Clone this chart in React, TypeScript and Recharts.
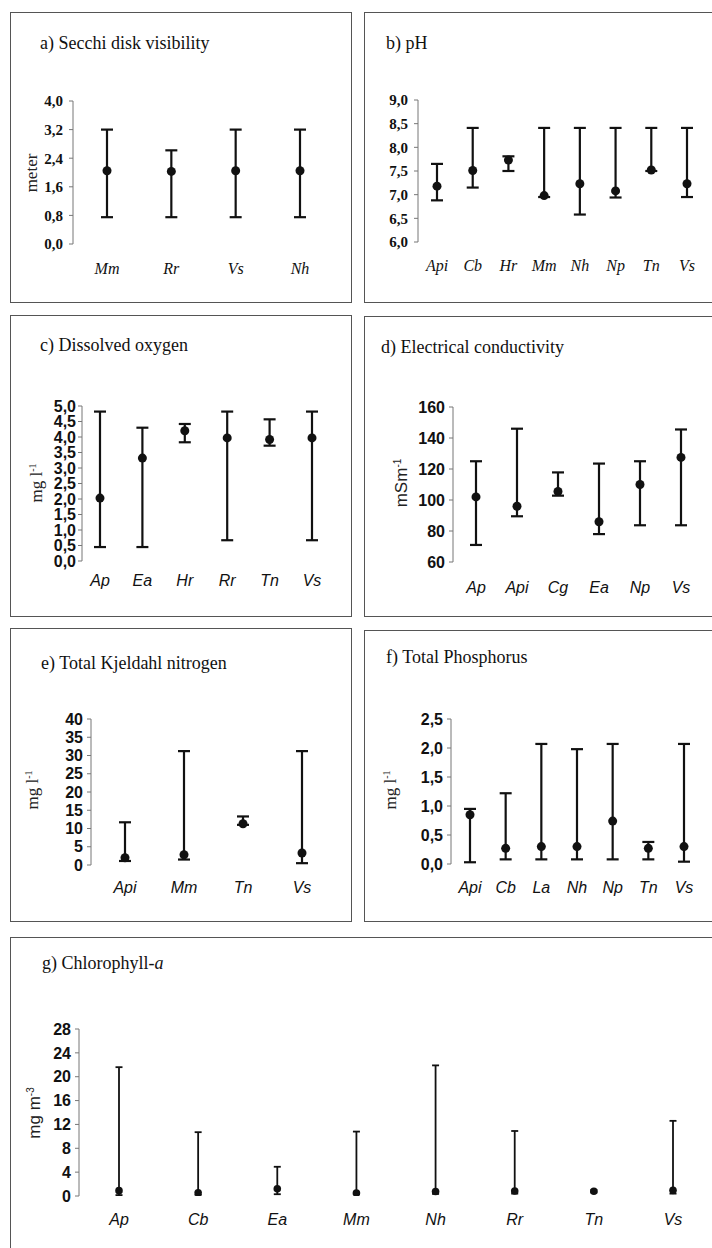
import React from "react";
import { ComposedChart, Line, XAxis, YAxis, ErrorBar } from "recharts";

// a) Secchi disk visibility (meter)
const secchiSites = ["Mm", "Rr", "Vs", "Nh"];
const secchiMean = [2.05, 2.03, 2.05, 2.05];
const secchiMin = [0.75, 0.75, 0.75, 0.75];
const secchiMax = [3.2, 2.62, 3.2, 3.2];
const secchiTicks = [0, 0.8, 1.6, 2.4, 3.2, 4.0];

// b) pH
const phSites = ["Api", "Cb", "Hr", "Mm", "Nh", "Np", "Tn", "Vs"];
const phMean = [7.18, 7.51, 7.73, 6.98, 7.23, 7.08, 7.52, 7.23];
const phMin = [6.88, 7.15, 7.5, 6.95, 6.58, 6.94, 7.5, 6.95];
const phMax = [7.65, 8.41, 7.81, 8.41, 8.41, 8.41, 8.41, 8.41];
const phTicks = [6, 6.5, 7, 7.5, 8, 8.5, 9];

// c) Dissolved oxygen (mg/l)
const doSites = ["Ap", "Ea", "Hr", "Rr", "Tn", "Vs"];
const doMean = [2.03, 3.32, 4.2, 3.97, 3.92, 3.97];
const doMin = [0.45, 0.45, 3.83, 0.67, 3.72, 0.67];
const doMax = [4.82, 4.3, 4.42, 4.82, 4.57, 4.82];
const doTicks = [0, 0.5, 1, 1.5, 2, 2.5, 3, 3.5, 4, 4.5, 5];

// d) Electrical conductivity (mS/m)
const ecSites = ["Ap", "Api", "Cg", "Ea", "Np", "Vs"];
const ecMean = [102, 96, 105.5, 86, 110, 127.5];
const ecMin = [71, 89.5, 102.8, 78, 83.7, 83.7];
const ecMax = [125, 146, 117.8, 123.5, 125, 145.5];
const ecTicks = [60, 80, 100, 120, 140, 160];

// e) Total Kjeldahl nitrogen (mg/l)
const tknSites = ["Api", "Mm", "Tn", "Vs"];
const tknMean = [2, 2.8, 11.3, 3.3];
const tknMin = [1.1, 1.5, 11, 0.5];
const tknMax = [11.7, 31.2, 13.3, 31.2];
const tknTicks = [0, 5, 10, 15, 20, 25, 30, 35, 40];

// f) Total phosphorus (mg/l)
const tpSites = ["Api", "Cb", "La", "Nh", "Np", "Tn", "Vs"];
const tpMean = [0.85, 0.27, 0.3, 0.3, 0.74, 0.27, 0.3];
const tpMin = [0.03, 0.08, 0.08, 0.08, 0.08, 0.08, 0.04];
const tpMax = [0.95, 1.22, 2.07, 1.98, 2.07, 0.38, 2.07];
const tpTicks = [0, 0.5, 1, 1.5, 2, 2.5];

// g) Chlorophyll-a (mg/m3)
const chlSites = ["Ap", "Cb", "Ea", "Mm", "Nh", "Rr", "Tn", "Vs"];
const chlMean = [0.9, 0.55, 1.2, 0.5, 0.75, 0.85, 0.8, 0.95];
const chlMin = [0.15, 0.2, 0.3, 0.3, 0.35, 0.4, 0.6, 0.4];
const chlMax = [21.6, 10.7, 4.9, 10.8, 21.9, 10.9, 1.0, 12.6];
const chlTicks = [0, 4, 8, 12, 16, 20, 24, 28];

const SERIF = "'Liberation Serif', 'Times New Roman', serif";
const SANS = "'Liberation Sans', Arial, sans-serif";

const comma = (v: number) => v.toFixed(1).replace(".", ",");
const whole = (v: number) => String(v);

const build = (sites: string[], mean: number[], lo: number[], hi: number[]) =>
  sites.map((site, i) => ({
    site,
    mean: mean[i],
    err: [mean[i] - lo[i], hi[i] - mean[i]],
  }));

const Panel = ({ p }: any) => {
  const { box, axisX, first, last, yTop, yBottom, gap, font, tickFont, fmt } = p;
  const xAxisH = 40;
  const catFs = 16;
  const tickFs = font === SERIF ? 15 : 16;
  const margin = {
    top: yTop - box.y,
    right: box.w - (last - box.x),
    bottom: box.h - (yBottom - box.y) - xAxisH,
    left: 0,
  };
  return (
    <div style={{ position: "absolute", left: box.x, top: box.y, width: box.w, height: box.h }}>
      <div
        style={{
          position: "absolute",
          inset: 0,
          border: "1.5px solid #555",
          boxSizing: "border-box",
        }}
      />
      <div
        style={{
          position: "absolute",
          left: p.title.x - box.x,
          top: p.title.y - box.y,
          transform: "translateY(-50%)",
          fontFamily: SERIF,
          fontSize: 18,
          color: "#111",
          whiteSpace: "nowrap",
        }}
      >
        {p.title.text}
      </div>
      {p.ylabel && (
        <div
          style={{
            position: "absolute",
            left: p.ylabel.x - box.x,
            top: p.ylabel.y - box.y,
            transform: "translate(-50%, -50%) rotate(-90deg)",
            fontFamily: p.ylabel.font,
            fontSize: 17,
            color: "#222",
            whiteSpace: "nowrap",
          }}
        >
          {p.ylabel.text}
        </div>
      )}
      <div style={{ position: "absolute", left: 0, top: 0 }}>
        <ComposedChart width={box.w} height={box.h} data={p.data} margin={margin}>
          <XAxis
            dataKey="site"
            type="category"
            scale="point"
            padding={{ left: first - axisX, right: 0 }}
            axisLine={false}
            tickLine={false}
            tickSize={0}
            tickMargin={gap - 0.36 * catFs}
            interval={0}
            height={xAxisH}
            tick={{ fontFamily: font, fontStyle: "italic", fontSize: catFs, fill: "#111" }}
          />
          <YAxis
            type="number"
            domain={[p.ticks[0], p.ticks[p.ticks.length - 1]]}
            ticks={p.ticks}
            interval={0}
            allowDataOverflow
            width={axisX - box.x}
            tickSize={4}
            tickMargin={p.tickMargin}
            axisLine={{ stroke: "#777", strokeWidth: 1 }}
            tickLine={{ stroke: "#777", strokeWidth: 1 }}
            tickFormatter={fmt}
            tick={{ fontFamily: tickFont, fontWeight: "bold", fontSize: tickFs, fill: "#111" }}
          />
          <Line
            dataKey="mean"
            type="linear"
            stroke="none"
            strokeWidth={0}
            dot={{ r: p.r, fill: "#111", stroke: "#111", strokeWidth: 0 }}
            activeDot={false}
            legendType="none"
            isAnimationActive={false}
          >
            <ErrorBar
              dataKey="err"
              direction="y"
              width={p.cap}
              strokeWidth={p.lw}
              stroke="#111"
              isAnimationActive={false}
            />
          </Line>
        </ComposedChart>
      </div>
    </div>
  );
};

const panels = [
  {
    box: { x: 10, y: 12, w: 342, h: 291 },
    axisX: 73, first: 107, last: 300, yTop: 101, yBottom: 244, gap: 24,
    font: SERIF, tickFont: SERIF, fmt: comma, tickMargin: 6, r: 4.5, cap: 6, lw: 2.2,
    ticks: secchiTicks,
    data: build(secchiSites, secchiMean, secchiMin, secchiMax),
    title: { x: 40, y: 43, text: "a) Secchi disk visibility" },
    ylabel: { x: 32, y: 173, text: "meter", font: SERIF },
  },
  {
    box: { x: 364, y: 12, w: 352, h: 291 },
    axisX: 418, first: 437, last: 687, yTop: 100, yBottom: 242, gap: 23,
    font: SERIF, tickFont: SERIF, fmt: comma, tickMargin: 6, r: 4.5, cap: 6, lw: 2.2,
    ticks: phTicks,
    data: build(phSites, phMean, phMin, phMax),
    title: { x: 386, y: 43, text: "b) pH" },
  },
  {
    box: { x: 10, y: 315, w: 342, h: 302 },
    axisX: 82, first: 100, last: 312, yTop: 406, yBottom: 561, gap: 19,
    font: SANS, tickFont: SANS, fmt: comma, tickMargin: 2, r: 4.5, cap: 6, lw: 2.2,
    ticks: doTicks,
    data: build(doSites, doMean, doMin, doMax),
    title: { x: 40, y: 345, text: "c) Dissolved oxygen" },
    ylabel: { x: 37, y: 483, text: <>mg l<sup style={{ fontSize: 10 }}>-1</sup></>, font: SERIF },
  },
  {
    box: { x: 364, y: 316, w: 352, h: 301 },
    axisX: 453, first: 476, last: 681, yTop: 407, yBottom: 562, gap: 25,
    font: SANS, tickFont: SANS, fmt: whole, tickMargin: 4, r: 4.5, cap: 6, lw: 2.2,
    ticks: ecTicks,
    data: build(ecSites, ecMean, ecMin, ecMax),
    title: { x: 381, y: 347, text: "d) Electrical conductivity" },
    ylabel: { x: 402, y: 483, text: <>mSm<sup style={{ fontSize: 10 }}>-1</sup></>, font: SANS },
  },
  {
    box: { x: 10, y: 628, w: 342, h: 294 },
    axisX: 91, first: 125, last: 302, yTop: 719, yBottom: 865, gap: 22,
    font: SANS, tickFont: SANS, fmt: whole, tickMargin: 4, r: 4.5, cap: 6, lw: 2.2,
    ticks: tknTicks,
    data: build(tknSites, tknMean, tknMin, tknMax),
    title: { x: 41, y: 663, text: "e) Total Kjeldahl nitrogen" },
    ylabel: { x: 33, y: 790, text: <>mg l<sup style={{ fontSize: 10 }}>-1</sup></>, font: SERIF },
  },
  {
    box: { x: 364, y: 630, w: 352, h: 292 },
    axisX: 451, first: 470, last: 684, yTop: 719, yBottom: 864, gap: 23,
    font: SANS, tickFont: SANS, fmt: comma, tickMargin: 4, r: 4.5, cap: 6, lw: 2.2,
    ticks: tpTicks,
    data: build(tpSites, tpMean, tpMin, tpMax),
    title: { x: 386, y: 657, text: "f) Total Phosphorus" },
    ylabel: { x: 391, y: 790, text: <>mg l<sup style={{ fontSize: 10 }}>-1</sup></>, font: SERIF },
  },
  {
    box: { x: 10, y: 937, w: 706, h: 320 },
    axisX: 79, first: 119, last: 673, yTop: 1029, yBottom: 1196, gap: 23,
    font: SANS, tickFont: SANS, fmt: whole, tickMargin: 4, r: 3.8, cap: 3.5, lw: 1.8,
    ticks: chlTicks,
    data: build(chlSites, chlMean, chlMin, chlMax),
    title: { x: 42, y: 963, text: <>g) Chlorophyll-<i>a</i></> },
    ylabel: { x: 35, y: 1113, text: <>mg m<sup style={{ fontSize: 10 }}>-3</sup></>, font: SANS },
  },
];

export default function App() {
  return (
    <div
      style={{
        position: "absolute",
        left: 0,
        top: 0,
        width: 712,
        height: 1248,
        overflow: "hidden",
        background: "#fff",
      }}
    >
      {panels.map((p, i) => (
        <Panel key={i} p={p} />
      ))}
    </div>
  );
}
